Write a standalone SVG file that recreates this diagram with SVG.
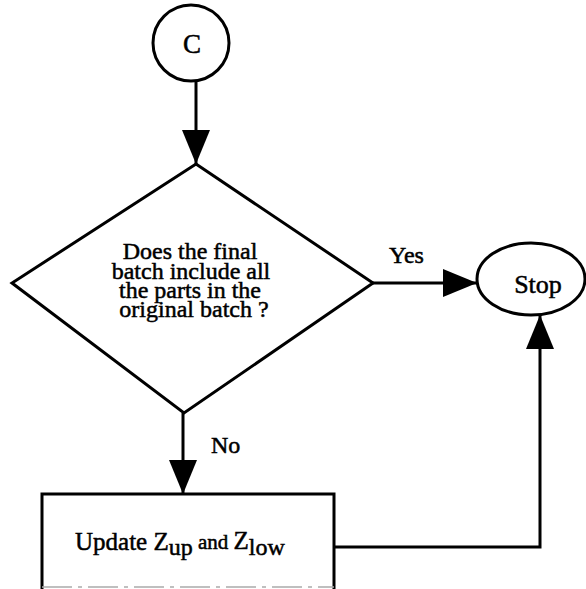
<svg xmlns="http://www.w3.org/2000/svg" width="586" height="589" viewBox="0 0 586 589">
  <style>
    .shape { fill: #fff; stroke: #000; stroke-width: 3; }
    .conn { fill: none; stroke: #000; stroke-width: 3; }
    text { font-family: "Liberation Serif", "Times New Roman", serif; fill: #000; stroke: #000; stroke-width: 0.5; }
    .lbl { font-size: 24px; }
  </style>
  <defs>
    <marker id="arr" viewBox="0 0 34 28" refX="34" refY="14" markerWidth="34" markerHeight="28" markerUnits="userSpaceOnUse" orient="auto">
      <path d="M0,0 L34,14 L0,28 z" fill="#000"/>
    </marker>
  </defs>
  <rect width="586" height="589" fill="#fff"/>

  <g id="connectors">
    <path class="conn" d="M196,82 L196,164" marker-end="url(#arr)"/>
    <path class="conn" d="M373,283 L477,283" marker-end="url(#arr)"/>
    <path class="conn" d="M183,413 L183,494" marker-end="url(#arr)"/>
    <path class="conn" d="M334,547 L540,547 L540,315" marker-end="url(#arr)"/>
    <text class="lbl" x="389" y="263">Yes</text>
    <text class="lbl" x="211" y="453">No</text>
  </g>

  <g id="node-c">
    <circle class="shape" cx="191" cy="43" r="38"/>
    <text x="192" y="53" font-size="27" text-anchor="middle">C</text>
  </g>

  <g id="node-decision">
    <polygon class="shape" points="196,164 373,283 184,413 12,283"/>
    <text class="lbl" text-anchor="middle">
      <tspan x="193" y="259">Does the final</tspan>
      <tspan x="194" y="279">batch include all</tspan>
      <tspan x="193" y="298">the parts in the</tspan>
      <tspan x="194" y="317">original batch ?</tspan>
    </text>
  </g>

  <g id="node-stop">
    <ellipse class="shape" cx="531" cy="279" rx="54" ry="36"/>
    <text x="538" y="293" font-size="26" text-anchor="middle">Stop</text>
  </g>

  <g id="node-update">
    <path class="conn" d="M42,590 L42,494 L334,494 L334,590"/>
    <line x1="42" y1="587" x2="334" y2="587" stroke="#aaa" stroke-width="1.5" stroke-dasharray="30 6 4 6"/>
    <text x="75" y="550" font-size="25">Update Z<tspan font-size="24" dy="5">up</tspan><tspan font-size="21" dy="-6"> and </tspan><tspan font-size="25" dy="0">Z</tspan><tspan font-size="24" dy="6">low</tspan></text>
  </g>
</svg>
